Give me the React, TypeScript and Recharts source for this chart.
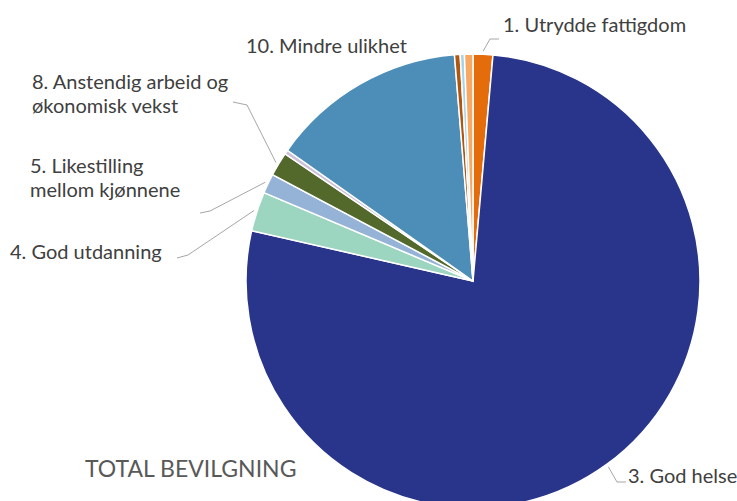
import { Cell, Pie, PieChart } from "recharts";

// Andel av total bevilgning per bærekraftsmål (prosent)
const goals = [
  "1. Utrydde fattigdom",
  "3. God helse",
  "4. God utdanning",
  "5. Likestilling mellom kjønnene",
  "8. Anstendig arbeid og økonomisk vekst",
  "9. Industri, innovasjon og infrastruktur",
  "10. Mindre ulikhet",
  "13. Stoppe klimaendringene",
  "16. Fred og rettferdighet",
  "17. Samarbeid for å nå målene",
];
const shares = [1.4, 77.0, 2.8, 1.4, 1.7, 0.3, 13.9, 0.4, 0.3, 0.6];
const colors = [
  "#E46C0A",
  "#28358A",
  "#9CD5C0",
  "#95B3D7",
  "#52692B",
  "#CCC0DA",
  "#4C8EB8",
  "#B0560F",
  "#A8D4E8",
  "#F7A863",
];

const data = goals.map((name, i) => ({ name, value: shares[i] }));

// label placement (Excel-style manually positioned labels)
type LabelLayout = {
  lines: string[];
  x: number;
  y: number;
  elbow?: [number, number][];
};

const labelLayout: Record<string, LabelLayout> = {
  "1. Utrydde fattigdom": {
    lines: ["1. Utrydde fattigdom"],
    x: 503,
    y: 32,
    elbow: [
      [490, 39],
      [499, 39],
    ],
  },
  "3. God helse": {
    lines: ["3. God helse"],
    x: 628,
    y: 483,
    elbow: [
      [617, 482],
      [626, 482],
    ],
  },
  "4. God utdanning": {
    lines: ["4. God utdanning"],
    x: 10,
    y: 259,
    elbow: [
      [188, 255],
      [177, 258],
    ],
  },
  "5. Likestilling mellom kjønnene": {
    lines: ["5. Likestilling", "mellom kjønnene"],
    x: 30,
    y: 173,
    elbow: [
      [210, 211],
      [200, 213],
    ],
  },
  "8. Anstendig arbeid og økonomisk vekst": {
    lines: ["8. Anstendig arbeid og", "økonomisk vekst"],
    x: 32,
    y: 89,
    elbow: [
      [247, 105],
      [233, 102],
    ],
  },
  "10. Mindre ulikhet": {
    lines: ["10. Mindre ulikhet"],
    x: 246,
    y: 53,
  },
};

const RAD = Math.PI / 180;

function renderLabel(props: any) {
  const { cx, cy, outerRadius, midAngle, name } = props;
  const layout = labelLayout[name];
  if (!layout) return null;
  const r = outerRadius + 3;
  const ex = cx + r * Math.cos(-midAngle * RAD);
  const ey = cy + r * Math.sin(-midAngle * RAD);
  const points = layout.elbow
    ? [[ex, ey], ...layout.elbow].map((p) => p.join(",")).join(" ")
    : null;
  return (
    <g>
      {points && (
        <polyline points={points} fill="none" stroke="#A6A6A6" strokeWidth={1} />
      )}
      <text
        x={layout.x}
        y={layout.y}
        fill="#404040"
        fontSize={20}
        fontFamily="Lato, 'Open Sans', sans-serif"
      >
        {layout.lines.map((line, i) => (
          <tspan key={i} x={layout.x} dy={i === 0 ? 0 : 24}>
            {line}
          </tspan>
        ))}
      </text>
    </g>
  );
}

export default function App() {
  return (
    <div
      style={{
        position: "absolute",
        left: 0,
        top: 0,
        width: 737,
        height: 501,
        background: "#FFFFFF",
        overflow: "hidden",
      }}
    >
      <PieChart
        width={737}
        height={501}
        margin={{ top: 0, right: 0, bottom: 0, left: 0 }}
      >
        <Pie
          data={data}
          dataKey="value"
          nameKey="name"
          cx={473}
          cy={281}
          outerRadius={227}
          startAngle={90}
          endAngle={-270}
          stroke="#FFFFFF"
          strokeWidth={1.5}
          label={renderLabel}
          labelLine={false}
          isAnimationActive={false}
        >
          {data.map((d, i) => (
            <Cell key={d.name} fill={colors[i]} />
          ))}
        </Pie>
        <text
          x={85}
          y={477}
          fill="#595959"
          fontSize={23}
          fontFamily="Lato, 'Open Sans', sans-serif"
        >
          TOTAL BEVILGNING
        </text>
      </PieChart>
    </div>
  );
}
